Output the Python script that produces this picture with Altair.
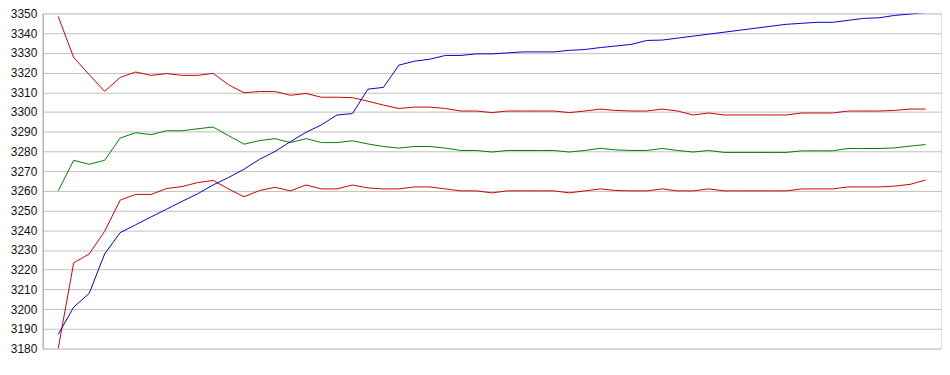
import altair as alt
import pandas as pd

upper_red = [3348.5, 3327.7, 3319.0, 3310.5, 3317.5, 3320.3, 3318.6, 3319.5, 3318.6, 3318.6,
             3319.6, 3313.8, 3309.8, 3310.4, 3310.4, 3308.5, 3309.4, 3307.5, 3307.5, 3307.3,
             3305.5, 3303.5, 3301.8, 3302.5, 3302.5, 3301.8, 3300.5, 3300.5, 3299.7, 3300.5,
             3300.5, 3300.5, 3300.5, 3299.7, 3300.5, 3301.5, 3300.8, 3300.5, 3300.5, 3301.5,
             3300.5, 3298.5, 3299.5, 3298.5, 3298.5, 3298.5, 3298.5, 3298.5, 3299.5, 3299.5,
             3299.5, 3300.5, 3300.5, 3300.5, 3300.8, 3301.5, 3301.5]

green = [3260.0, 3275.5, 3273.5, 3275.5, 3286.8, 3289.5, 3288.5, 3290.5, 3290.5, 3291.5,
         3292.4, 3288.0, 3283.7, 3285.5, 3286.5, 3284.5, 3286.5, 3284.5, 3284.5, 3285.4,
         3283.8, 3282.5, 3281.7, 3282.5, 3282.5, 3281.7, 3280.5, 3280.5, 3279.7, 3280.5,
         3280.5, 3280.5, 3280.5, 3279.7, 3280.5, 3281.6, 3280.8, 3280.5, 3280.5, 3281.5,
         3280.5, 3279.7, 3280.5, 3279.5, 3279.5, 3279.5, 3279.5, 3279.5, 3280.3, 3280.3,
         3280.3, 3281.5, 3281.5, 3281.5, 3281.8, 3282.7, 3283.5]

lower_red = [3180.0, 3223.5, 3228.0, 3239.5, 3255.3, 3258.2, 3258.2, 3261.2, 3262.2, 3264.2,
             3265.3, 3261.0, 3257.0, 3260.2, 3261.8, 3260.0, 3263.0, 3261.0, 3261.0, 3263.0,
             3261.5, 3261.0, 3261.0, 3262.0, 3262.0, 3261.0, 3260.0, 3260.0, 3259.0, 3260.0,
             3260.0, 3260.0, 3260.0, 3259.0, 3260.0, 3261.0, 3260.2, 3260.0, 3260.0, 3261.0,
             3260.0, 3260.0, 3261.0, 3260.0, 3260.0, 3260.0, 3260.0, 3260.0, 3261.0, 3261.0,
             3261.0, 3262.0, 3262.0, 3262.0, 3262.4, 3263.3, 3265.5]

blue = [3187.2, 3201.0, 3208.0, 3228.0, 3238.8, 3242.8, 3246.8, 3250.7, 3254.7, 3258.5,
        3263.0, 3266.8, 3271.0, 3276.0, 3280.0, 3285.0, 3289.7, 3293.5, 3298.5, 3299.2,
        3311.6, 3312.5, 3323.8, 3325.8, 3326.8, 3328.7, 3328.7, 3329.5, 3329.5, 3330.0,
        3330.5, 3330.5, 3330.5, 3331.3, 3331.7, 3332.7, 3333.5, 3334.3, 3336.3, 3336.5,
        3337.5, 3338.5, 3339.5, 3340.5, 3341.5, 3342.5, 3343.5, 3344.5, 3345.0, 3345.5,
        3345.5, 3346.5, 3347.5, 3347.8, 3349.0, 3349.7, 3350.5]

series_names = ["upper", "green", "lower", "blue"]
series_colors = ["#CC0000", "#008000", "#CC0000", "#0000CC"]
y_ticks = list(range(3180, 3351, 10))

rows = []
for name, vals in zip(series_names, [upper_red, green, lower_red, blue]):
    for i, v in enumerate(vals):
        rows.append({"series": name, "idx": i, "value": v})
df = pd.DataFrame(rows)

chart = alt.Chart(df).mark_line(strokeWidth=1, clip=True).encode(
    x=alt.X("idx:Q", scale=alt.Scale(domain=[-1, 57], nice=False, zero=False), axis=None),
    y=alt.Y("value:Q",
            scale=alt.Scale(domain=[3180, 3350], nice=False, zero=False),
            axis=alt.Axis(values=y_ticks, format="d", title=None, grid=True,
                          gridColor="#C0C0C0", gridWidth=1, domainColor="#A0A0A0",
                          ticks=False, labelPadding=6, labelFont="Liberation Sans",
                          labelFontSize=12, labelColor="#111111", labelOverlap=False)),
    color=alt.Color("series:N", scale=alt.Scale(domain=series_names, range=series_colors),
                    legend=None),
    order=alt.Order("idx:Q"),
).properties(
    width=906, height=338,
    autosize=alt.AutoSizeParams(type="none"),
    padding={"left": 35, "top": 4, "right": 1, "bottom": 10},
).configure_view(stroke=None).configure(background="white")

chart.save("out.html", embed_options={"renderer": "svg", "actions": False})
